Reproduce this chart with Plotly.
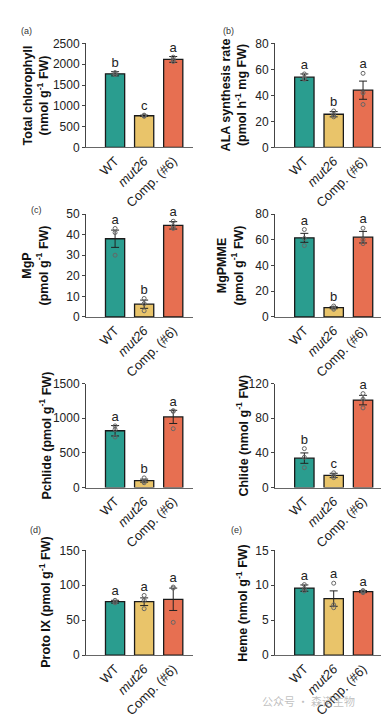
import plotly.graph_objects as go

# ---------------- data ----------------
categories = ["WT", "<i>mut26</i>", "Comp. (#6)"]
colors = ["#2a9d8f", "#e9c46a", "#e76f51"]

chl_mean = [1770, 760, 2115]
chl_se = [50, 15, 70]
chl_pts = [[1800, 1750, 1760], [775, 760, 748], [2170, 2110, 2065]]
chl_let = ["b", "c", "a"]

ala_mean = [54, 25.5, 44]
ala_se = [2.5, 2, 7]
ala_pts = [[56.5, 53, 52.5], [28, 25, 23.5], [57, 42, 33]]
ala_let = ["a", "b", "a"]

mgp_mean = [38, 6.2, 44.5]
mgp_se = [4.2, 2, 1.8]
mgp_pts = [[43, 41, 30], [9, 6.5, 3], [46.5, 44, 43]]
mgp_let = ["a", "b", "a"]

mgpmme_mean = [61.5, 7.2, 62]
mgpmme_se = [3.5, 0.8, 4.5]
mgpmme_pts = [[68, 61, 55.5], [8.5, 7, 6], [69, 60, 57]]
mgpmme_let = ["a", "b", "a"]

pch_mean = [820, 100, 1020]
pch_se = [75, 22, 95]
pch_pts = [[890, 840, 730], [140, 90, 70], [1110, 1100, 850]]
pch_let = ["a", "b", "a"]

chd_mean = [34, 14, 101]
chd_se = [6, 2.5, 5.5]
chd_pts = [[45, 35, 23], [17, 13.5, 11.5], [108.5, 102, 92]]
chd_let = ["b", "c", "a"]

pro_mean = [76.5, 76.5, 80]
pro_se = [2, 5.5, 16]
pro_pts = [[78.5, 76, 75], [85.5, 78.5, 66.5], [97.5, 96, 47]]
pro_let = ["a", "a", "a"]

hem_mean = [9.6, 8.1, 9.1]
hem_se = [0.45, 1.1, 0.15]
hem_pts = [[10.1, 9.5, 9.2], [10.3, 7.2, 6.8], [9.25, 9.1, 8.95]]
hem_let = ["a", "a", "a"]

panels = [
    dict(mean=chl_mean, se=chl_se, pts=chl_pts, let=chl_let, yr=[0, 2500], dt=500,
         title="Total chlorophyll<br>(nmol g<sup>-1</sup> FW)"),
    dict(mean=ala_mean, se=ala_se, pts=ala_pts, let=ala_let, yr=[0, 80], dt=20,
         title="ALA synthesis rate<br>(pmol h<sup>-1</sup> mg FW)"),
    dict(mean=mgp_mean, se=mgp_se, pts=mgp_pts, let=mgp_let, yr=[0, 50], dt=10,
         title="MgP<br>(pmol g<sup>-1</sup> FW)"),
    dict(mean=mgpmme_mean, se=mgpmme_se, pts=mgpmme_pts, let=mgpmme_let, yr=[0, 80], dt=20,
         title="MgPMME<br>(pmol g<sup>-1</sup> FW)"),
    dict(mean=pch_mean, se=pch_se, pts=pch_pts, let=pch_let, yr=[0, 1500], dt=500,
         title="Pchlide (pmol g<sup>-1</sup> FW)"),
    dict(mean=chd_mean, se=chd_se, pts=chd_pts, let=chd_let, yr=[0, 120], dt=40,
         title="Chlide (nmol g<sup>-1</sup> FW)"),
    dict(mean=pro_mean, se=pro_se, pts=pro_pts, let=pro_let, yr=[0, 150], dt=50,
         title="Proto IX (pmol g<sup>-1</sup> FW)"),
    dict(mean=hem_mean, se=hem_se, pts=hem_pts, let=hem_let, yr=[0, 15], dt=5,
         title="Heme (nmol g<sup>-1</sup> FW)"),
]

# ---------------- layout geometry (pixels) ----------------
W, H = 389, 716
col_x = [(78, 185), (267, 375)]
row_y = [(29, 135), (203, 308), (376, 482), (546, 653)]
title_x = [[28, 226], [27, 222], [37, 234], [37, 234]]
FONT = "Arial, Liberation Sans, sans-serif"

fig = go.Figure()
layout = dict(
    width=W, height=H, margin=dict(l=0, r=0, t=0, b=0),
    paper_bgcolor="white", plot_bgcolor="white", showlegend=False,
    font=dict(family=FONT, size=12, color="#222"),
    annotations=[],
)

xcats = [0, 1, 2]
for i, p in enumerate(panels):
    r, c = divmod(i, 2)
    n = i + 1
    xa = "x" if n == 1 else f"x{n}"
    ya = "y" if n == 1 else f"y{n}"
    fig.add_trace(go.Bar(
        x=xcats, y=p["mean"], width=0.66, xaxis=xa, yaxis=ya,
        marker=dict(color=colors, line=dict(color="#1a1a1a", width=1.3)),
        error_y=dict(type="data", array=p["se"], visible=True, color="#222",
                     thickness=1, width=4),
    ))
    px_, py_ = [], []
    for k, pts in enumerate(p["pts"]):
        for v in pts:
            px_.append(k)
            py_.append(v)
    fig.add_trace(go.Scatter(
        x=px_, y=py_, mode="markers", xaxis=xa, yaxis=ya, cliponaxis=False,
        marker=dict(symbol="circle-open", size=4, color="#666", line=dict(width=1)),
    ))
    span = p["yr"][1] - p["yr"][0]
    tops = [max(m + s, max(pt)) + span * 0.015 for m, s, pt in zip(p["mean"], p["se"], p["pts"])]
    fig.add_trace(go.Scatter(
        x=xcats, y=tops, mode="text", text=p["let"], textposition="top center",
        cliponaxis=False,
        textfont=dict(size=13, color="#222", family=FONT), xaxis=xa, yaxis=ya,
    ))
    x0, x1 = col_x[c]
    y0, y1 = row_y[r]
    xkey = "xaxis" if n == 1 else f"xaxis{n}"
    ykey = "yaxis" if n == 1 else f"yaxis{n}"
    layout[xkey] = dict(
        domain=[x0 / W, x1 / W], anchor=ya, range=[-1.0, 2.68],
        tickmode="array", tickvals=xcats, ticktext=categories, tickangle=-45,
        showline=True, linecolor="#666", linewidth=1, ticks="",
        showgrid=False, zeroline=False, tickfont=dict(size=13, color="#222"),
        fixedrange=True,
    )
    layout[ykey] = dict(
        domain=[1 - y1 / H, 1 - y0 / H], anchor=xa, range=p["yr"],
        dtick=p["dt"], tick0=0, showline=True, linecolor="#444", linewidth=1,
        ticks="outside", ticklen=3, tickcolor="#444", showgrid=False, zeroline=False,
        tickfont=dict(size=12, color="#222"), fixedrange=True,
    )
    layout["annotations"].append(dict(
        text="<b>" + p["title"] + "</b>", textangle=-90, xref="paper", yref="paper",
        x=title_x[r][c] / W, y=1 - (y0 + y1) / 2 / H, xanchor="center", yanchor="middle",
        showarrow=False, font=dict(size=12.5, color="#111", family=FONT),
    ))

panel_labels = [("(a)", 18, 16), ("(b)", 220, 16), ("(c)", 28, 199), ("(d)", 27, 525), ("(e)", 228, 525)]
for t, lx, ly in panel_labels:
    layout["annotations"].append(dict(
        text=t, xref="paper", yref="paper", x=lx / W, y=1 - ly / H,
        xanchor="center", yanchor="middle", showarrow=False,
        font=dict(size=9, color="#333", family=FONT),
    ))

layout["annotations"].append(dict(
    text="公众号 · 森诺生物", xref="paper", yref="paper", x=300 / W, y=1 - 700 / H,
    xanchor="center", yanchor="middle", showarrow=False,
    font=dict(size=11, color="rgba(150,150,150,0.6)", family="Noto Sans CJK SC"),
))

fig.update_layout(**layout)
fig.write_html("out.html")
